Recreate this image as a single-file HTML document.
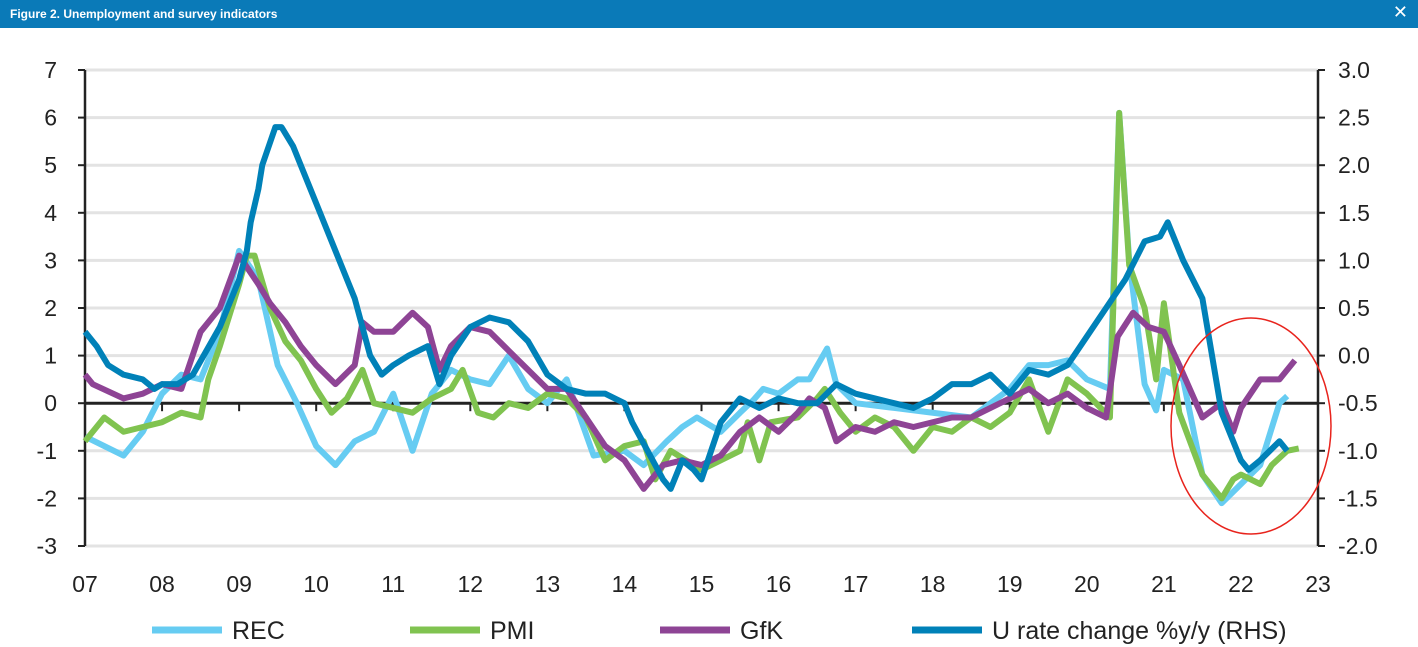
<!DOCTYPE html>
<html><head><meta charset="utf-8"><style>
body{margin:0;width:1418px;height:647px;background:#fff;overflow:hidden;font-family:"Liberation Sans",sans-serif}
#hdr{position:absolute;left:0;top:0;width:1418px;height:28px;background:#0a7ab8;color:#fff}
#hdr .t{position:absolute;left:10px;top:7px;font-size:12px;font-weight:bold}
#hdr .x{position:absolute;right:10px;top:2px;font-size:18px}
svg{position:absolute;left:0;top:0}
</style></head><body>
<div id="hdr"><span class="t">Figure 2. Unemployment and survey indicators</span><span class="x">✕</span></div>
<svg id="c" width="1418" height="647"></svg>
<script>
const leftTicks=[7,6,5,4,3,2,1,0,-1,-2,-3];
const rightTicks=["3.0","2.5","2.0","1.5","1.0","0.5","0.0","-0.5","-1.0","-1.5","-2.0"];
const yearLabels=["07","08","09","10","11","12","13","14","15","16","17","18","19","20","21","22","23"];
const recT=[7.0,7.25,7.5,7.75,8.0,8.25,8.5,8.75,9.0,9.25,9.5,9.75,10.0,10.25,10.5,10.75,11.0,11.25,11.5,11.75,12.0,12.25,12.5,12.75,13.0,13.25,13.6,14.0,14.25,14.55,14.75,14.94,15.25,15.5,15.67,15.8,16.0,16.25,16.4,16.63,16.75,17.0,17.5,18.0,18.5,19.0,19.25,19.5,19.75,20.0,20.3,20.42,20.55,20.75,20.9,21.0,21.25,21.5,21.75,22.0,22.25,22.5,22.6];
const recV=[-0.7,-0.9,-1.1,-0.6,0.2,0.6,0.5,1.5,3.2,2.6,0.8,0.0,-0.9,-1.3,-0.8,-0.6,0.2,-1.0,0.2,0.7,0.5,0.4,1.0,0.3,0.0,0.5,-1.1,-1.0,-1.3,-0.8,-0.5,-0.3,-0.6,-0.2,0.06,0.3,0.2,0.5,0.5,1.15,0.4,0.0,-0.1,-0.2,-0.3,0.3,0.8,0.8,0.9,0.5,0.3,6.1,3.0,0.4,-0.15,0.7,0.5,-1.5,-2.1,-1.7,-1.3,0.0,0.15];
const pmiT=[7.0,7.25,7.5,7.75,8.0,8.25,8.5,8.6,8.75,9.0,9.1,9.2,9.4,9.6,9.8,10.0,10.2,10.4,10.6,10.75,11.0,11.25,11.5,11.75,11.9,12.1,12.3,12.5,12.75,13.0,13.25,13.5,13.75,14.0,14.25,14.4,14.6,14.8,15.0,15.25,15.5,15.6,15.75,15.9,16.25,16.5,16.6,16.8,17.0,17.25,17.5,17.75,18.0,18.25,18.5,18.75,19.0,19.25,19.5,19.75,20.0,20.3,20.42,20.55,20.75,20.9,21.0,21.2,21.5,21.75,21.9,22.0,22.25,22.4,22.6,22.75];
const pmiV=[-0.8,-0.3,-0.6,-0.5,-0.4,-0.2,-0.3,0.5,1.2,2.5,3.1,3.1,2.0,1.3,0.9,0.3,-0.2,0.1,0.7,0.0,-0.1,-0.2,0.1,0.3,0.7,-0.2,-0.3,0.0,-0.1,0.2,0.1,-0.3,-1.2,-0.9,-0.8,-1.6,-1.0,-1.2,-1.4,-1.2,-1.0,-0.4,-1.2,-0.4,-0.3,0.1,0.3,-0.2,-0.6,-0.3,-0.5,-1.0,-0.5,-0.6,-0.3,-0.5,-0.2,0.5,-0.6,0.5,0.2,-0.3,6.1,2.9,2.0,0.5,2.1,-0.2,-1.5,-2.0,-1.6,-1.5,-1.7,-1.3,-1.0,-0.95];
const gfkT=[7.0,7.1,7.5,7.75,8.0,8.25,8.5,8.75,9.0,9.25,9.4,9.6,9.8,10.0,10.25,10.5,10.6,10.75,11.0,11.25,11.45,11.6,11.75,12.0,12.25,12.5,12.75,13.0,13.25,13.5,13.75,14.0,14.25,14.5,14.75,15.0,15.25,15.5,15.75,16.0,16.25,16.4,16.6,16.75,17.0,17.25,17.5,17.75,18.0,18.25,18.5,18.75,19.0,19.25,19.5,19.75,20.0,20.25,20.4,20.6,20.8,21.0,21.2,21.5,21.75,21.9,22.0,22.25,22.5,22.7];
const gfkV=[0.6,0.4,0.1,0.2,0.4,0.3,1.5,2.0,3.1,2.5,2.1,1.7,1.2,0.8,0.4,0.8,1.7,1.5,1.5,1.9,1.6,0.7,1.2,1.6,1.5,1.1,0.7,0.3,0.3,-0.3,-0.9,-1.2,-1.8,-1.3,-1.2,-1.3,-1.1,-0.6,-0.3,-0.6,-0.2,0.1,-0.1,-0.8,-0.5,-0.6,-0.4,-0.5,-0.4,-0.3,-0.3,-0.1,0.1,0.3,0.0,0.2,-0.1,-0.3,1.4,1.9,1.6,1.5,0.8,-0.3,0.0,-0.6,-0.1,0.5,0.5,0.9];
const uT=[7.0,7.15,7.3,7.5,7.75,7.9,8.0,8.2,8.4,8.75,9.0,9.1,9.15,9.25,9.3,9.47,9.55,9.7,9.8,10.0,10.25,10.5,10.7,10.85,11.0,11.2,11.45,11.6,11.75,12.0,12.25,12.5,12.75,13.0,13.25,13.5,13.75,14.0,14.1,14.3,14.5,14.6,14.75,14.9,15.0,15.25,15.5,15.75,16.0,16.25,16.5,16.75,17.0,17.25,17.5,17.75,18.0,18.25,18.5,18.75,19.0,19.25,19.5,19.75,20.0,20.25,20.5,20.75,20.95,21.05,21.25,21.5,21.75,22.0,22.1,22.25,22.5,22.6];
const uV=[0.25,0.1,-0.1,-0.2,-0.25,-0.35,-0.3,-0.3,-0.2,0.3,0.8,1.1,1.4,1.75,2.0,2.4,2.4,2.2,2.0,1.6,1.1,0.6,0.0,-0.2,-0.1,0.0,0.1,-0.3,0.0,0.3,0.4,0.35,0.15,-0.2,-0.35,-0.4,-0.4,-0.5,-0.7,-1.0,-1.3,-1.4,-1.1,-1.2,-1.3,-0.7,-0.45,-0.55,-0.45,-0.5,-0.5,-0.3,-0.4,-0.45,-0.5,-0.55,-0.45,-0.3,-0.3,-0.2,-0.4,-0.15,-0.2,-0.1,0.2,0.5,0.8,1.2,1.25,1.4,1.0,0.6,-0.6,-1.1,-1.2,-1.1,-0.9,-1.0];

const S=document.getElementById('c'),NS='http://www.w3.org/2000/svg';
const X0=85,X1=1318,YT=70,YB=546;
const xs=t=>X0+(t-7)*(X1-X0)/16;
const yl=v=>YT+(7-v)*(YB-YT)/10;
const yr=v=>YT+(3-v)*(YB-YT)/5;
function mk(tag,at,txt){const e=document.createElementNS(NS,tag);for(const k in at)e.setAttribute(k,at[k]);if(txt!==undefined)e.textContent=txt;S.appendChild(e);return e;}
leftTicks.forEach((v,i)=>{
 if(v!==0){const g=mk('line',{x1:X0,x2:X1,y1:yl(v),y2:yl(v),stroke:'#e3e3e3','stroke-width':3});
 
 }
 const tk=mk('line',{x1:X0-7,x2:X0,y1:yl(v),y2:yl(v),stroke:'#222','stroke-width':2});
 
 
 const l=mk('text',{x:57,y:yl(v)+8,'text-anchor':'end','font-size':23,fill:'#222'},String(v));
 
 
 const r=mk('text',{x:1338,y:yl(v)+8,'font-size':23,fill:'#222'},rightTicks[i]);
 
 
 const rt=mk('line',{x1:X1,x2:X1+7,y1:yl(v),y2:yl(v),stroke:'#222','stroke-width':2});
 
 
});
const la=mk('line',{x1:X0,x2:X0,y1:YT,y2:YB,stroke:'#222','stroke-width':2.5});


const ra=mk('line',{x1:X1,x2:X1,y1:YT,y2:YB,stroke:'#222','stroke-width':2.5});


const za=mk('line',{x1:X0,x2:X1,y1:yl(0),y2:yl(0),stroke:'#222','stroke-width':3});


yearLabels.forEach((s,i)=>{
 const t=mk('line',{x1:xs(7+i),x2:xs(7+i),y1:yl(0),y2:yl(0)+8,stroke:'#222','stroke-width':2});
 
 
 const l=mk('text',{x:xs(7+i),y:592,'text-anchor':'middle','font-size':23,fill:'#222'},s);
 
 
});
function line(T,V,yf,col,name){
 const p=mk('polyline',{points:T.map((t,i)=>xs(t)+','+yf(V[i])).join(' '),fill:'none',stroke:col,'stroke-width':6,'stroke-linejoin':'round'});
 
 
}
line(recT,recV,yl,'#66ccf2','rec-line');
line(pmiT,pmiV,yl,'#80c350','pmi-line');
line(gfkT,gfkV,yl,'#8e4495','gfk-line');
line(uT,uV,yr,'#0081b8','u-rate-line');
const el=mk('ellipse',{cx:1251,cy:426,rx:80,ry:108,fill:'none',stroke:'#e8241d','stroke-width':1.5});


const leg=[['REC','#66ccf2',152],['PMI','#80c350',410],['GfK','#8e4495',660],['U rate change %y/y (RHS)','#0081b8',912]];
leg.forEach(([n,c,x])=>{
 const l=mk('line',{x1:x,x2:x+70,y1:630,y2:630,stroke:c,'stroke-width':7});
 
 
 const t=mk('text',{x:x+80,y:639,'font-size':25,fill:'#222'},n);
 
 
});
</script>
</body></html>
